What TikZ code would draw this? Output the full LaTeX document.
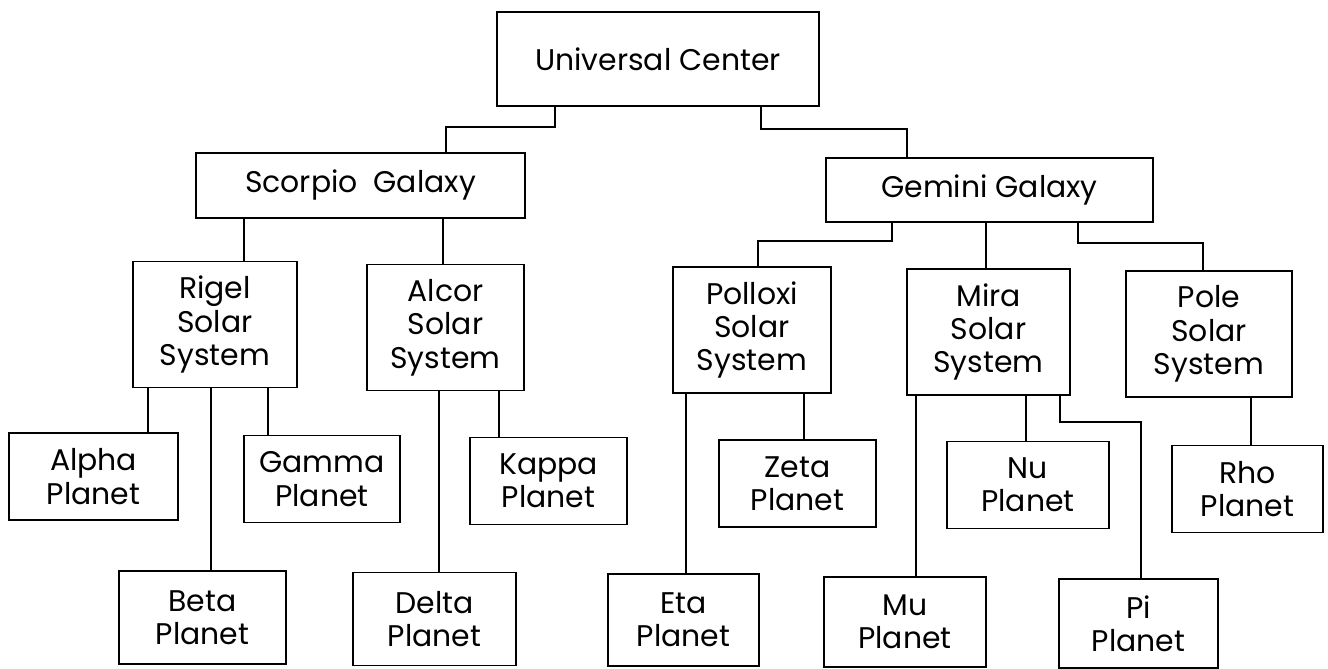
\documentclass[tikz,border=0pt]{standalone}
\usepackage{fontspec}
\setmainfont{Poppins}
\usetikzlibrary{positioning}

\begin{document}
\begin{tikzpicture}

	\tikzset{mybox/.style={draw, black, line width=1.1pt, align=center, inner sep=0pt, font=\fontsize{17}{19}\selectfont}}
	\tikzset{mylink/.style={black, line width=0.8pt}}

	% Parameters
	\def\wS{3.2}   % solar system box width
	\def\hS{2.52}  % solar system box height
	\def\hP{1.74}  % planet box height

	\useasboundingbox (0,0) rectangle (26.56,-13.36);

	%center and galaxies
	\node[mybox, minimum width=6.44cm, minimum height=1.88cm] (center) at (13.16,-1.18) {Universal Center};
	\node[mybox, minimum width=6.58cm, minimum height=1.30cm] (scorpio) at (7.21,-3.71) {Scorpio\ \ Galaxy};
	\node[mybox, minimum width=6.54cm, minimum height=1.28cm] (gemini) at (19.79,-3.80) {Gemini Galaxy};

	%solar systems
	\node[mybox, minimum width=3.28cm, minimum height=\hS cm] (rigel) at (4.30,-6.49) {Rigel\\Solar\\System};
	\node[mybox, minimum width=3.14cm, minimum height=\hS cm] (alcor) at (8.91,-6.55) {Alcor\\Solar\\System};
	\node[mybox, minimum width=3.16cm, minimum height=\hS cm] (polloxi) at (15.04,-6.60) {Polloxi\\Solar\\System};
	\node[mybox, minimum width=3.26cm, minimum height=\hS cm] (mira) at (19.77,-6.64) {Mira\\Solar\\System};
	\node[mybox, minimum width=3.32cm, minimum height=\hS cm] (pole) at (24.18,-6.68) {Pole\\Solar\\System};

	%upper planets
	\node[mybox, minimum width=3.38cm, minimum height=\hP cm] (alpha) at (1.87,-9.53) {Alpha\\Planet};
	\node[mybox, minimum width=3.12cm, minimum height=\hP cm] (gamma) at (6.44,-9.58) {Gamma\\Planet};
	\node[mybox, minimum width=3.14cm, minimum height=\hP cm] (kappa) at (10.97,-9.62) {Kappa\\Planet};
	\node[mybox, minimum width=3.14cm, minimum height=\hP cm] (zeta) at (15.95,-9.67) {Zeta\\Planet};
	\node[mybox, minimum width=3.24cm, minimum height=\hP cm] (nu) at (20.56,-9.70) {Nu\\Planet};
	\node[mybox, minimum width=3.02cm, minimum height=\hP cm] (rho) at (24.95,-9.78) {Rho\\Planet};

	%lower planets
	\node[mybox, minimum width=3.34cm, minimum height=1.86cm] (beta) at (4.05,-12.35) {Beta\\Planet};
	\node[mybox, minimum width=3.26cm, minimum height=1.86cm] (delta) at (8.69,-12.38) {Delta\\Planet};
	\node[mybox, minimum width=3.02cm, minimum height=1.84cm] (eta) at (13.67,-12.40) {Eta\\Planet};
	\node[mybox, minimum width=3.24cm, minimum height=1.80cm] (mu) at (18.10,-12.44) {Mu\\Planet};
	\node[mybox, minimum width=3.18cm, minimum height=1.78cm] (pi) at (22.77,-12.47) {Pi\\Planet};

	%links
	\draw[mylink] (11.10,0 |- center.south) |- (8.92,-2.54) -- (8.92,0 |- scorpio.north);
	\draw[mylink] (15.22,0 |- center.south) |- (18.14,-2.58) -- (18.14,0 |- gemini.north);

	\draw[mylink] (4.88,0 |- scorpio.south) -- (4.88,0 |- rigel.north);
	\draw[mylink] (8.86,0 |- scorpio.south) -- (8.86,0 |- alcor.north);
	\draw[mylink] (17.84,0 |- gemini.south) |- (15.16,-4.82) -- (15.16,0 |- polloxi.north);
	\draw[mylink] (19.72,0 |- gemini.south) -- (19.72,0 |- mira.north);
	\draw[mylink] (21.56,0 |- gemini.south) |- (24.06,-4.86) -- (24.06,0 |- pole.north);

	\draw[mylink] (2.96,0 |- rigel.south) -- (2.96,0 |- alpha.north);
	\draw[mylink] (4.22,0 |- rigel.south) -- (4.22,0 |- beta.north);
	\draw[mylink] (5.36,0 |- rigel.south) -- (5.36,0 |- gamma.north);
	\draw[mylink] (8.78,0 |- alcor.south) -- (8.78,0 |- delta.north);
	\draw[mylink] (9.98,0 |- alcor.south) -- (9.98,0 |- kappa.north);
	\draw[mylink] (13.72,0 |- polloxi.south) -- (13.72,0 |- eta.north);
	\draw[mylink] (16.08,0 |- polloxi.south) -- (16.08,0 |- zeta.north);
	\draw[mylink] (18.32,0 |- mira.south) -- (18.32,0 |- mu.north);
	\draw[mylink] (20.52,0 |- mira.south) -- (20.52,0 |- nu.north);
	\draw[mylink] (21.20,0 |- mira.south) |- (22.82,-8.44) -- (22.82,0 |- pi.north);
	\draw[mylink] (25.02,0 |- pole.south) -- (25.02,0 |- rho.north);

\end{tikzpicture}
\end{document}
